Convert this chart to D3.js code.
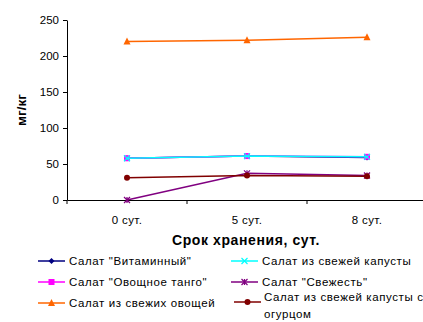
<!DOCTYPE html>
<html><head><meta charset="utf-8">
<script src="https://cdn.jsdelivr.net/npm/d3@7"></script>
<style>body{margin:0;background:#fff}svg{display:block;font-family:"Liberation Sans",Arial,sans-serif}</style>
</head><body><svg id="c" width="423" height="322"></svg>
<script>
const categories = ["0 сут.", "5 сут.", "8 сут."];
const seriesNames = ["Салат \"Витаминный\"", "Салат \"Овощное танго\"", "Салат из свежих овощей", "Салат из свежей капусты", "Салат \"Свежесть\"", "Салат из свежей капусты с огурцом"];
const vitamin = [58, 61, 59];
const tango = [58, 61, 60];
const vegetables = [220, 222, 226];
const cabbage = [58, 61, 60];
const svezhest = [0, 37, 34];
const cucumber = [31, 34, 33];
const yTicks = [0, 50, 100, 150, 200, 250];
const colors = ["#000080", "#FF00FF", "#FF6600", "#00FFFF", "#800080", "#800000"];
const markers = ["diamond", "square", "triangle", "x", "star", "circle"];
const values = [vitamin, tango, vegetables, cabbage, svezhest, cucumber];

const svg = d3.select("#c");
const x = d3.scaleBand().domain(categories).range([67, 427]);
const y = d3.scaleLinear().domain([0, 250]).range([200, 20]);

// axes
const ya = svg.append("g").attr("transform", "translate(67,0)")
  .call(d3.axisLeft(y).tickValues(yTicks).tickSize(4).tickSizeOuter(0));
ya.select(".domain").attr("stroke", "#000");
ya.selectAll("text").attr("font-size", 11.5).attr("font-family", "Liberation Sans, Arial").attr("dx", -1);
const xa = svg.append("g").attr("transform", "translate(0,200)")
  .call(d3.axisBottom(x).tickSize(0).tickSizeOuter(0));
xa.select(".domain").attr("stroke", "#000");
xa.selectAll("text").attr("font-size", 11.5).attr("font-family", "Liberation Sans, Arial").attr("letter-spacing", 0.4).attr("dy", 21);
// category boundary ticks
const bounds = categories.map(c => x(c)).concat([x.range()[1]]);
svg.append("g").selectAll("line").data(bounds).join("line")
  .attr("x1", d => d).attr("x2", d => d).attr("y1", 200).attr("y2", 204).attr("stroke", "#000");

// titles
svg.append("text").attr("transform", "translate(26,110) rotate(-90)").attr("text-anchor", "middle")
  .attr("font-size", 13.5).attr("font-weight", "bold").text("мг/кг");
svg.append("text").attr("x", 246).attr("y", 245).attr("text-anchor", "middle")
  .attr("font-size", 14).attr("font-weight", "bold").attr("letter-spacing", 0.6).text("Срок хранения, сут.");

function marker(g, type, color, cx, cy) {
  const s = 3;
  if (type === "diamond") g.append("path").attr("d", `M${cx},${cy-s}L${cx+s},${cy}L${cx},${cy+s}L${cx-s},${cy}Z`).attr("fill", color);
  else if (type === "square") g.append("rect").attr("x", cx-s).attr("y", cy-s).attr("width", 2*s).attr("height", 2*s).attr("fill", color);
  else if (type === "triangle") g.append("path").attr("d", `M${cx},${cy-s-1}L${cx+s+0.5},${cy+s}L${cx-s-0.5},${cy+s}Z`).attr("fill", color);
  else if (type === "circle") g.append("circle").attr("cx", cx).attr("cy", cy).attr("r", s).attr("fill", color);
  else if (type === "x") g.append("path").attr("d", `M${cx-s},${cy-s}L${cx+s},${cy+s}M${cx-s},${cy+s}L${cx+s},${cy-s}`).attr("stroke", color).attr("stroke-width", 1.2);
  else if (type === "star") g.append("path").attr("d", `M${cx-s},${cy-s}L${cx+s},${cy+s}M${cx-s},${cy+s}L${cx+s},${cy-s}M${cx},${cy-s}L${cx},${cy+s}`).attr("stroke", color).attr("stroke-width", 1.2);
}

const line = d3.line().x((d, i) => x(categories[i]) + x.bandwidth() / 2).y(d => y(d));
values.forEach((vals, k) => {
  const g = svg.append("g");
  g.append("path").attr("d", line(vals)).attr("fill", "none").attr("stroke", colors[k]).attr("stroke-width", 1.5);
  vals.forEach((v, i) => marker(g, markers[k], colors[k], x(categories[i]) + x.bandwidth() / 2, y(v)));
});

// legend
const legendPos = [[38, 261], [38, 282], [38, 303], [231, 261], [231, 282], [234, 302]];
seriesNames.forEach((name, k) => {
  const [lx, ly] = legendPos[k];
  const g = svg.append("g");
  g.append("line").attr("x1", lx).attr("x2", lx + 27).attr("y1", ly).attr("y2", ly).attr("stroke", colors[k]).attr("stroke-width", 1.5);
  marker(g, markers[k], colors[k], lx + 13.5, ly);
  const t = g.append("text").attr("x", lx + 31).attr("y", ly + 4).attr("font-size", 11.5).attr("letter-spacing", 0.6);
  if (k === 5) {
    t.attr("y", ly - 1);
    t.append("tspan").attr("x", lx + 30).text("Салат из свежей капусты с");
    t.append("tspan").attr("x", lx + 30).attr("dy", 17).text("огурцом");
  } else t.text(name);
});
</script></body></html>
